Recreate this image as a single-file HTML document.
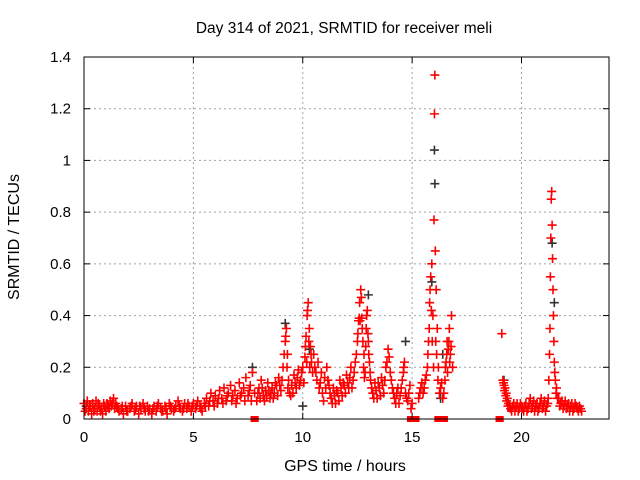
<!DOCTYPE html>
<html><head><meta charset="utf-8"><style>
body{margin:0;background:#fff}
svg{display:block;font-family:"Liberation Sans",sans-serif}
</style></head><body>
<svg id="chart" width="640" height="480">
<rect width="640" height="480" fill="#fff"/>
<g id="grid"></g>
<g id="marks"></g>
<rect x="84" y="57" width="525" height="362" fill="none" stroke="#000" stroke-width="1"/>
<g id="ticks"></g>
<text x="344" y="33" font-size="15.5" text-anchor="middle">Day 314 of 2021, SRMTID for receiver meli</text>
<text x="345" y="471" font-size="16" text-anchor="middle">GPS time / hours</text>
<text transform="translate(19,237) rotate(-90)" font-size="16" text-anchor="middle">SRMTID / TECUs</text>
</svg>
<script>
const xTicks=[0,5,10,15,20];
const yTicks=[0,0.2,0.4,0.6,0.8,1,1.2,1.4];
const yTickLabels=["0","0.2","0.4","0.6","0.8","1","1.2","1.4"];
const redPts=[[0,0.06],[0.1,0.04],[0.15,0.07],[0.2,0.03],[0.3,0.05],[0.35,0.02],[0.4,0.06],[0.5,0.04],[0.55,0.07],[0.6,0.03],[0.7,0.05],[0.8,0.04],[0.85,0.02],[0.9,0.06],[1.0,0.03],[1.1,0.05],[1.2,0.07],[1.3,0.06],[1.35,0.08],[1.4,0.04],[1.5,0.05],[1.6,0.03],[1.7,0.04],[1.8,0.02],[1.9,0.05],[2.0,0.03],[2.1,0.04],[2.2,0.06],[2.3,0.03],[2.4,0.05],[2.5,0.02],[2.6,0.04],[2.7,0.06],[2.8,0.03],[2.9,0.05],[3.0,0.04],[3.1,0.02],[3.2,0.05],[3.3,0.03],[3.4,0.06],[3.5,0.04],[3.6,0.03],[3.7,0.05],[3.8,0.02],[3.9,0.06],[4.0,0.04],[4.1,0.03],[4.2,0.05],[4.3,0.07],[4.4,0.04],[4.5,0.03],[4.6,0.06],[4.7,0.04],[4.8,0.05],[4.9,0.03],[5.0,0.06],[5.1,0.04],[5.2,0.07],[5.3,0.05],[5.4,0.03],[5.5,0.06],[5.6,0.08],[5.7,0.05],[5.8,0.1],[5.9,0.07],[6.0,0.09],[6.1,0.06],[6.2,0.11],[6.3,0.08],[6.4,0.12],[6.5,0.07],[6.6,0.1],[6.7,0.13],[6.8,0.09],[6.9,0.11],[7.0,0.08],[7.1,0.14],[7.2,0.1],[7.3,0.12],[7.4,0.16],[7.5,0.09],[7.6,0.13],[7.7,0.18],[7.8,0.1],[7.9,0.07],[8.0,0.12],[8.1,0.15],[8.2,0.09],[8.3,0.11],[8.4,0.14],[8.5,0.08],[8.6,0.12],[8.7,0.1],[8.8,0.13],[8.9,0.16],[9.0,0.11],[9.1,0.2],[9.2,0.3],[9.25,0.35],[9.3,0.25],[9.35,0.15],[9.4,0.1],[9.5,0.13],[9.6,0.17],[9.7,0.12],[9.8,0.19],[9.9,0.15],[10.0,0.2],[10.1,0.24],[10.15,0.32],[10.2,0.4],[10.25,0.45],[10.3,0.35],[10.35,0.28],[10.4,0.22],[10.5,0.25],[10.6,0.18],[10.7,0.22],[10.8,0.14],[10.9,0.1],[11.0,0.16],[11.1,0.2],[11.2,0.13],[11.3,0.08],[11.4,0.12],[11.5,0.06],[11.6,0.1],[11.7,0.15],[11.8,0.09],[11.9,0.13],[12.0,0.17],[12.1,0.12],[12.2,0.2],[12.3,0.15],[12.4,0.22],[12.5,0.3],[12.55,0.38],[12.6,0.45],[12.65,0.5],[12.7,0.39],[12.75,0.3],[12.8,0.25],[12.85,0.18],[12.9,0.35],[12.95,0.42],[13.0,0.3],[13.05,0.22],[13.1,0.15],[13.2,0.1],[13.3,0.14],[13.4,0.08],[13.5,0.12],[13.6,0.16],[13.7,0.1],[13.8,0.2],[13.9,0.27],[14.0,0.18],[14.1,0.12],[14.2,0.08],[14.3,0.1],[14.4,0.06],[14.5,0.12],[14.6,0.18],[14.65,0.22],[14.7,0.1],[14.8,0.07],[14.9,0.13],[15.0,0.06],[15.3,0.08],[15.4,0.12],[15.5,0.1],[15.6,0.15],[15.7,0.2],[15.75,0.3],[15.8,0.45],[15.85,0.55],[15.9,0.6],[15.95,0.4],[16.0,0.77],[16.02,1.18],[16.04,1.33],[16.06,0.65],[16.1,0.5],[16.15,0.35],[16.2,0.2],[16.3,0.12],[16.4,0.08],[16.5,0.15],[16.55,0.22],[16.6,0.3],[16.65,0.27],[16.7,0.35],[16.75,0.25],[16.8,0.4],[16.85,0.2],[19.1,0.33],[19.15,0.15],[19.2,0.13],[19.25,0.12],[19.3,0.1],[19.35,0.08],[19.4,0.06],[19.5,0.04],[19.6,0.05],[19.7,0.03],[19.8,0.06],[19.9,0.04],[20.0,0.05],[20.1,0.03],[20.2,0.06],[20.3,0.04],[20.4,0.08],[20.5,0.05],[20.6,0.03],[20.7,0.06],[20.8,0.04],[20.9,0.08],[21.0,0.05],[21.1,0.03],[21.2,0.06],[21.25,0.15],[21.3,0.35],[21.32,0.55],[21.34,0.7],[21.36,0.85],[21.38,0.88],[21.4,0.75],[21.42,0.62],[21.44,0.5],[21.46,0.4],[21.48,0.3],[21.5,0.22],[21.55,0.15],[21.6,0.12],[21.7,0.08],[21.8,0.06],[21.9,0.04],[22.0,0.07],[22.1,0.05],[22.2,0.03],[22.3,0.06],[22.4,0.04],[22.5,0.05],[22.6,0.03],[22.7,0.04]];
const redPts2=[[0.05,0.03],[0.25,0.05],[0.45,0.03],[0.65,0.06],[0.75,0.03],[0.95,0.05],[1.05,0.06],[1.15,0.04],[1.25,0.05],[1.45,0.06],[1.55,0.04],[1.75,0.05],[1.95,0.03],[2.15,0.05],[2.35,0.04],[2.55,0.05],[2.75,0.04],[2.95,0.03],[3.15,0.04],[3.35,0.05],[3.55,0.03],[3.75,0.04],[3.95,0.05],[4.15,0.04],[4.35,0.05],[4.55,0.04],[4.75,0.06],[4.95,0.05],[5.15,0.05],[5.35,0.04],[5.55,0.05],[5.75,0.07],[5.95,0.05],[6.15,0.08],[6.35,0.06],[6.55,0.09],[6.75,0.07],[6.95,0.06],[7.15,0.09],[7.35,0.07],[7.55,0.11],[7.65,0.07],[7.95,0.1],[8.05,0.08],[8.15,0.12],[8.25,0.07],[8.35,0.09],[8.45,0.11],[8.55,0.1],[8.65,0.08],[8.75,0.14],[8.85,0.09],[8.95,0.13],[9.05,0.15],[9.15,0.25],[9.22,0.32],[9.28,0.2],[9.32,0.12],[9.45,0.09],[9.55,0.1],[9.65,0.14],[9.75,0.16],[9.85,0.13],[9.95,0.18],[10.05,0.14],[10.12,0.28],[10.18,0.22],[10.22,0.42],[10.28,0.3],[10.32,0.2],[10.38,0.25],[10.45,0.18],[10.55,0.2],[10.65,0.15],[10.75,0.12],[10.85,0.18],[10.95,0.07],[11.05,0.12],[11.15,0.15],[11.25,0.1],[11.35,0.06],[11.45,0.09],[11.55,0.11],[11.65,0.07],[11.75,0.12],[11.85,0.14],[11.95,0.1],[12.05,0.14],[12.15,0.16],[12.25,0.12],[12.35,0.18],[12.45,0.25],[12.52,0.33],[12.58,0.39],[12.62,0.38],[12.68,0.47],[12.72,0.35],[12.78,0.2],[12.82,0.16],[12.88,0.28],[12.92,0.4],[12.98,0.33],[13.02,0.25],[13.08,0.18],[13.15,0.12],[13.25,0.08],[13.35,0.11],[13.45,0.14],[13.55,0.09],[13.65,0.13],[13.75,0.15],[13.85,0.22],[13.95,0.24],[14.05,0.15],[14.15,0.1],[14.25,0.06],[14.35,0.12],[14.45,0.09],[14.55,0.15],[14.62,0.2],[14.75,0.08],[14.85,0.1],[14.95,0.04],[15.35,0.1],[15.45,0.14],[15.55,0.12],[15.65,0.17],[15.72,0.25],[15.78,0.35],[15.82,0.5],[15.88,0.42],[15.92,0.3],[15.98,0.2],[16.08,0.3],[16.12,0.25],[16.18,0.15],[16.25,0.1],[16.35,0.14],[16.45,0.1],[16.52,0.2],[16.58,0.25],[16.62,0.18],[16.68,0.3],[16.72,0.22],[16.78,0.28],[19.18,0.14],[19.22,0.11],[19.28,0.09],[19.32,0.07],[19.38,0.05],[19.45,0.05],[19.55,0.03],[19.65,0.06],[19.75,0.05],[19.85,0.03],[19.95,0.06],[20.05,0.04],[20.15,0.05],[20.25,0.03],[20.35,0.06],[20.45,0.04],[20.55,0.07],[20.65,0.05],[20.75,0.03],[20.85,0.06],[20.95,0.04],[21.05,0.07],[21.15,0.05],[21.22,0.08],[21.28,0.25],[21.52,0.18],[21.58,0.1],[21.65,0.08],[21.75,0.05],[21.85,0.07],[21.95,0.05],[22.05,0.04],[22.15,0.06],[22.25,0.05],[22.35,0.03],[22.45,0.06],[22.55,0.04],[22.65,0.05],[22.75,0.03]];
const blackPts=[[0.1,0.05],[7.7,0.2],[9.2,0.37],[10.0,0.05],[10.3,0.27],[13.0,0.48],[14.7,0.3],[15.9,0.53],[16.02,1.04],[16.04,0.91],[16.3,0.08],[16.4,0.25],[21.4,0.68],[21.5,0.45],[19.2,0.15]];
const zeroBlocks=[[7.75,7.85],[14.9,15.2],[16.15,16.5],[18.95,19.05]];
const X0=84,X1=609,Y0=419,Y1=57,XMAX=24,YMAX=1.4;
function sx(t){return X0+(X1-X0)*t/XMAX;}
function sy(v){return Y0-(Y0-Y1)*v/YMAX;}
const NS="http://www.w3.org/2000/svg";
function mk(tag,attrs,parent){const e=document.createElementNS(NS,tag);for(const k in attrs)e.setAttribute(k,attrs[k]);parent.appendChild(e);return e;}
const grid=document.getElementById('grid'),ticks=document.getElementById('ticks'),marks=document.getElementById('marks');
xTicks.forEach(t=>{
  const x=sx(t);
  if(t>0){const g=mk('line',{x1:x,x2:x,y1:Y1,y2:Y0,stroke:'#a0a0a0','stroke-dasharray':'2,3'},grid);
  
  }
  mk('line',{x1:x,x2:x,y1:Y0,y2:Y0-6,stroke:'#000'},ticks);
  mk('line',{x1:x,x2:x,y1:Y1,y2:Y1+6,stroke:'#000'},ticks);
  const l=mk('text',{x:x,y:Y0+23,'font-size':15,'text-anchor':'middle'},ticks);
  l.textContent=t;
  
  
});
yTicks.forEach((v,i)=>{
  const y=sy(v);
  if(i>0&&i<yTicks.length-1){const g=mk('line',{x1:X0,x2:X1,y1:y,y2:y,stroke:'#a0a0a0','stroke-dasharray':'2,3'},grid);
  
  }
  mk('line',{x1:X0,x2:X0+6,y1:y,y2:y,stroke:'#000'},ticks);
  mk('line',{x1:X1,x2:X1-6,y1:y,y2:y,stroke:'#000'},ticks);
  const l=mk('text',{x:X0-13,y:y+5,'font-size':15,'text-anchor':'end'},ticks);
  l.textContent=yTickLabels[i];
  
  
});
function crosses(pts,color,name){
  let d='';
  pts.forEach(p=>{const x=sx(p[0]),y=sy(p[1]);d+=`M${x-4.5} ${y}h9M${x} ${y-4.5}v9`;});
  const e=mk('path',{d:d,stroke:color,'stroke-width':1.6,fill:'none'},marks);
  
  
}
crosses(blackPts,'#333','black-series');
crosses(redPts,'#ff0000','red-series');
crosses(redPts2,'#ff0000','red-series-dense');
zeroBlocks.forEach(b=>{
  const r=mk('rect',{x:sx(b[0])-3,y:Y0-3,width:sx(b[1])-sx(b[0])+6,height:6,fill:'#ff0000'},marks);
  
  
});
</script>
</body></html>
